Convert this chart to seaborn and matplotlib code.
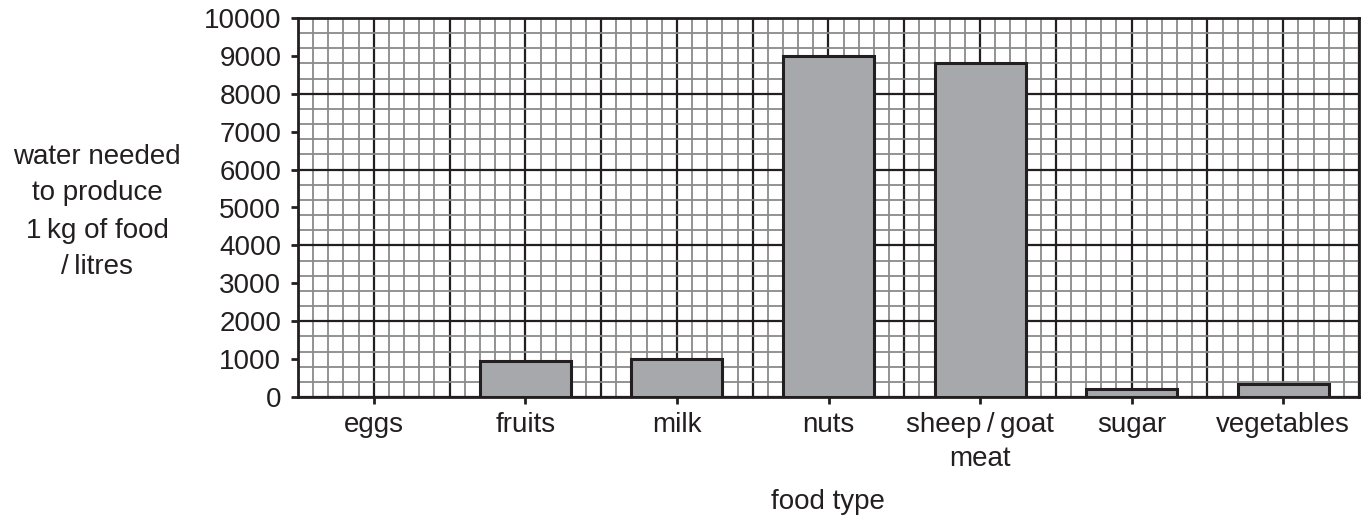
import numpy as np
import pandas as pd
import matplotlib
matplotlib.use("Agg")
import matplotlib.pyplot as plt
import seaborn as sns

# data
food_types = ["eggs", "fruits", "milk", "nuts", "sheep\u2009/\u2009goat\nmeat", "sugar", "vegetables"]
water_litres = [0, 960, 1000, 9000, 8800, 200, 350]

df = pd.DataFrame({"food": food_types, "water": water_litres})

sns.set_style("white")
plt.rcParams["font.family"] = ["Liberation Sans", "DejaVu Sans"]

fig = plt.figure(figsize=(13.72, 5.21), dpi=100)
ax = fig.add_axes([298 / 1372, 1 - 397 / 521, (1359 - 298) / 1372, (397 - 18) / 521])

# graph-paper grid
n = len(food_types)
for xv in np.arange(-0.5, n - 0.5 + 1e-9, 0.1):
    major = abs(xv * 2 - round(xv * 2)) < 1e-6
    ax.axvline(xv, color="#231f20" if major else "#8a8a8a",
               lw=1.6 if major else 1.3, zorder=1)
for yv in np.arange(0, 10001, 400):
    major = yv % 2000 == 0
    ax.axhline(yv, color="#231f20" if major else "#8a8a8a",
               lw=1.6 if major else 1.3, zorder=1)

sns.barplot(data=df, x="food", y="water", color="#a7a8ab", saturation=1,
            edgecolor="#231f20", linewidth=2.2, width=0.6, ax=ax, zorder=3)

ax.set_xlim(-0.5, n - 0.5)
ax.set_ylim(0, 10000)
ax.set_yticks(np.arange(0, 10001, 1000))
ax.tick_params(axis="both", labelsize=20, length=5, width=2, color="#231f20",
               labelcolor="#231f20", direction="out", left=True, bottom=True)
ax.tick_params(axis="y", pad=7)
ax.tick_params(axis="x", pad=6)
for lab in ax.get_xticklabels():
    lab.set_linespacing(1.4)
ax.set_xlabel("")
ax.set_ylabel("")
for s in ax.spines.values():
    s.set_color("#231f20")
    s.set_linewidth(2)
    s.set_zorder(4)

fig.text(97 / 1372, 1 - 212 / 521, "water needed\nto produce\n1\u2009kg of food\n/\u2009litres",
         ha="center", va="center", fontsize=20, color="#231f20", linespacing=1.55)
fig.text(828 / 1372, 1 - 502 / 521, "food type", ha="center", va="center",
         fontsize=20, color="#231f20")

fig.savefig("out.png", dpi=100)
